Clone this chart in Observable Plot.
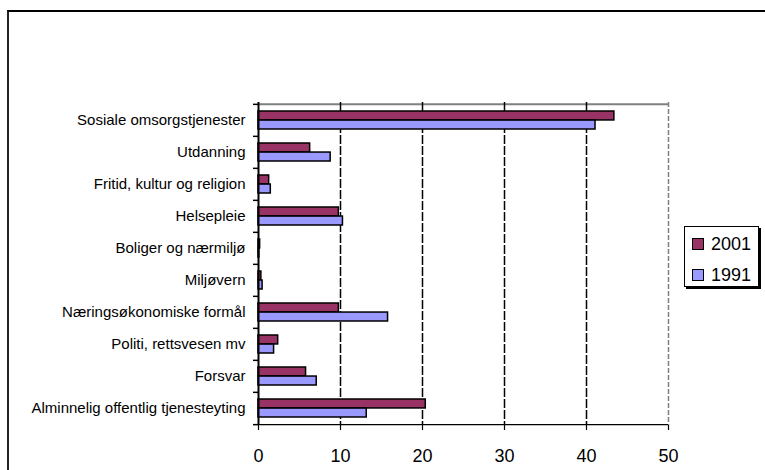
<!DOCTYPE html>
<html>
<head>
<meta charset="utf-8">
<script src="https://cdn.jsdelivr.net/npm/d3@7"></script>
<script src="https://cdn.jsdelivr.net/npm/@observablehq/plot@0.6"></script>
<style>
  html, body { margin: 0; padding: 0; background: #fff; }
  #wrap { position: relative; width: 765px; height: 470px; overflow: hidden; font-family: "Liberation Sans", Arial, sans-serif; }
  #outer { position: absolute; left: 7px; top: 10px; width: 800px; height: 500px; border-top: 2px solid #000; border-left: 2px solid #222; box-sizing: border-box; }
  #chart { position: absolute; left: 0; top: 0; }
  #legend { position: absolute; left: 684px; top: 226px; width: 73px; height: 59px; border: 1px solid #000; box-shadow: 2px 2px 0 #000; background: #fff; }
  .item { position: absolute; left: 7px; height: 18px; display: flex; align-items: center; font-size: 18px; color: #000; }
  .sw { width: 10px; height: 10px; border: 1px solid #000; margin-right: 7px; }
</style>
</head>
<body>
<div id="wrap">
  <div id="outer"></div>
  <div id="chart"></div>
  <div id="legend"></div>
</div>
<script>
const categories = [
  "Sosiale omsorgstjenester",
  "Utdanning",
  "Fritid, kultur og religion",
  "Helsepleie",
  "Boliger og nærmiljø",
  "Miljøvern",
  "Næringsøkonomiske formål",
  "Politi, rettsvesen mv",
  "Forsvar",
  "Alminnelig offentlig tjenesteyting"
];
const seriesNames = ["2001", "1991"];
const values2001 = [43.4, 6.3, 1.3, 9.8, 0.2, 0.35, 9.8, 2.4, 5.8, 20.4];
const values1991 = [41.1, 8.8, 1.5, 10.3, 0.1, 0.5, 15.8, 1.9, 7.1, 13.2];
const xTicks = [0, 10, 20, 30, 40, 50];
const colors = {"2001": "#993366", "1991": "#9999FF"};

const rows2001 = categories.map((c, i) => ({category: c, value: values2001[i]}));
const rows1991 = categories.map((c, i) => ({category: c, value: values1991[i]}));

const W = 765, H = 470;
const mTop = 102, mBottom = 45, mLeft = 258, mRight = 97;
const step = (H - mTop - mBottom) / categories.length;
const padIn = 0.44;
const bw = step * (1 - padIn);

const plot = Plot.plot({
  width: W,
  height: H,
  marginTop: mTop,
  marginBottom: mBottom,
  marginLeft: mLeft,
  marginRight: mRight,
  style: {fontFamily: "'Liberation Sans', Arial, sans-serif", background: "transparent", color: "#000", overflow: "visible"},
  x: {domain: [0, 50]},
  y: {domain: categories, paddingInner: padIn, paddingOuter: padIn / 2},
  marks: [
    Plot.ruleY([categories[0]], {dy: -step / 2, stroke: "#808080", strokeWidth: 2}),
    Plot.ruleX([10, 20, 30, 40], {stroke: "#000", strokeWidth: 1.5, strokeDasharray: "9,2"}),
    Plot.ruleX([50], {stroke: "#808080", strokeWidth: 1.5, strokeDasharray: "5,2"}),
    Plot.barX(rows2001, {x: "value", y: "category", fill: colors["2001"], stroke: "#000", strokeWidth: 1.5, insetBottom: bw / 2}),
    Plot.barX(rows1991, {x: "value", y: "category", fill: colors["1991"], stroke: "#000", strokeWidth: 1.5, insetTop: bw / 2}),
    Plot.ruleY([categories[categories.length - 1]], {dy: step / 2, stroke: "#000", strokeWidth: 1.2}),
    Plot.ruleX([0], {stroke: "#000", strokeWidth: 2}),
    Plot.axisY({tickSize: 0, tickPadding: 13, fontSize: 15, label: null}),
    Plot.axisY({tickSize: 5, tickFormat: () => "", dy: -step / 2, label: null, strokeWidth: 1.5}),
    Plot.axisY([categories[categories.length - 1]], {tickSize: 5, tickFormat: () => "", dy: step / 2, label: null, strokeWidth: 1.5}),
    Plot.axisX(xTicks, {tickSize: 5, tickPadding: 19, fontSize: 18, label: null, strokeWidth: 1.2})
  ]
});
document.getElementById("chart").appendChild(plot);

const legend = document.getElementById("legend");
seriesNames.forEach((s, i) => {
  const item = document.createElement("div");
  item.className = "item";
  item.style.top = (8 + i * 31) + "px";
  const sw = document.createElement("div");
  sw.className = "sw";
  sw.style.background = colors[s];
  const t = document.createElement("span");
  t.textContent = s;
  item.appendChild(sw);
  item.appendChild(t);
  legend.appendChild(item);
});
</script>
</body>
</html>
